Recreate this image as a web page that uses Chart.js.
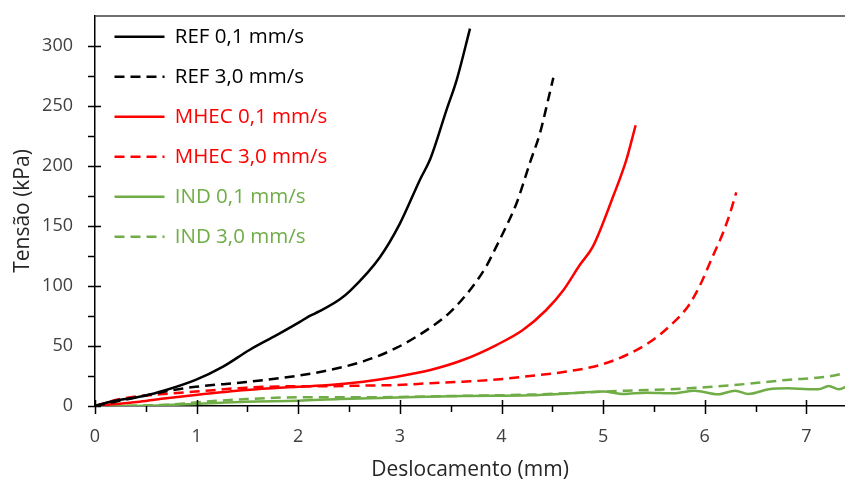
<!DOCTYPE html>
<html>
<head>
<meta charset="utf-8">
<script src="https://cdn.jsdelivr.net/npm/chart.js@4/dist/chart.umd.min.js"></script>
<style>
  body { margin: 0; background: #fff; }
  #wrap { width: 845px; height: 481px; }
</style>
</head>
<body>
<div id="wrap"><canvas id="chart" width="845" height="481"></canvas></div>
<script>
// values (displacement in mm, stress in kPa)
const refSlowX = [0, 0.15, 0.48, 0.70, 0.99, 1.26, 1.52, 1.79, 2.02, 2.10, 2.21, 2.41, 2.51, 2.80, 3.00, 3.20, 3.30, 3.46, 3.56, 3.69];
const refSlowY = [0, 3.6, 8.3, 13.3, 21.7, 32.8, 46.7, 59.2, 70.3, 74.5, 79, 89, 96, 123.6, 152, 189, 206, 247, 272, 314.5];

const refFastX = [0, 0.28, 0.77, 0.99, 1.49, 2.0, 2.31, 2.64, 2.97, 3.30, 3.49, 3.69, 3.85, 3.95, 4.02, 4.15, 4.28, 4.38, 4.46, 4.51];
const refFastY = [0, 5, 13.3, 16, 20, 25.3, 30, 37.2, 48.6, 65.3, 77.8, 96.7, 116.4, 133, 145, 169.4, 202.8, 227.8, 255.6, 273.6];

const mhecSlowX = [0, 0.44, 0.70, 0.99, 1.49, 2.0, 2.31, 2.64, 2.97, 3.30, 3.62, 3.95, 4.21, 4.44, 4.61, 4.77, 4.90, 5.10, 5.23, 5.32];
const mhecSlowY = [0, 3.6, 6.4, 9.2, 13.3, 16, 17.5, 20.3, 24.4, 30, 38.3, 50.8, 63.3, 80, 96.7, 117.5, 133, 175, 205.6, 234];

const mhecFastX = [0, 0.28, 0.77, 0.99, 1.49, 2.0, 2.31, 2.64, 2.97, 3.30, 3.62, 3.95, 4.28, 4.61, 4.97, 5.23, 5.46, 5.66, 5.84, 5.95, 6.08, 6.18, 6.25, 6.31];
const mhecFastY = [0, 6.4, 10.6, 12, 15.3, 16.5, 16.5, 17, 17.5, 19, 20.3, 22, 25, 28.3, 34.2, 42.5, 53.3, 67, 83.6, 100, 125, 144.4, 161, 178];

const indSlowX = [0, 0.5, 0.7, 0.99, 1.49, 2.0, 2.41, 2.97, 3.62, 4.28, 4.57, 4.77, 5.0, 5.2, 5.43, 5.69, 5.9, 6.13, 6.3, 6.43, 6.63, 6.82, 7.02, 7.12, 7.22, 7.32, 7.42];
const indSlowY = [0, 0.3, 0.8, 1.7, 3.6, 4.4, 5.8, 7, 8.3, 8.9, 10, 11.1, 12, 10, 11.1, 10.6, 12.8, 9.7, 12.8, 10, 13.9, 14.7, 13.9, 13.9, 16.7, 13.9, 17.5];

const indFastX = [0, 0.7, 0.99, 1.49, 2.0, 2.41, 2.97, 3.62, 4.28, 4.61, 5.23, 5.46, 5.84, 6.0, 6.4, 6.8, 7.2, 7.42];
const indFastY = [0, 1, 3, 5.8, 7.2, 7.2, 7.5, 8.5, 9.5, 10.5, 12.8, 13.3, 14.7, 15.6, 18.3, 21.7, 24.4, 28.2];

const seriesLabels = ['REF 0,1 mm/s', 'REF 3,0 mm/s', 'MHEC 0,1 mm/s', 'MHEC 3,0 mm/s', 'IND 0,1 mm/s', 'IND 3,0 mm/s'];

const xMajor = [0, 1, 2, 3, 4, 5, 6, 7];
const xMinor = [0.5, 1.5, 2.5, 3.5, 4.5, 5.5, 6.5];
const yMajor = [0, 50, 100, 150, 200, 250, 300];
const yMinor = [25, 75, 125, 175, 225, 275];

const BLACK = '#000000';
const RED = '#ff0000';
const GREEN = '#70ad47';
const FONT = 'Open Sans';

function points(xs, ys) {
    return xs.map((x, i) => ({ x: x, y: ys[i] }));
}

function line(label, xs, ys, color, dashed) {
    return {
        label: label,
        data: points(xs, ys),
        borderColor: color,
        backgroundColor: color,
        borderWidth: 2.5,
        borderDash: dashed ? [10, 6] : [],
        pointRadius: 0,
        cubicInterpolationMode: 'monotone',
        fill: false
    };
}

// tick marks crossing the axes + the thin frame line on top
const axisDecor = {
    id: 'axisDecor',
    afterLayout(chart) {
        // legend sits inside the plot, a bit higher than Chart.js puts it
        chart.legend.top = chart.chartArea.top - 9;
        chart.legend.left = chart.chartArea.left;
    },
    afterDraw(chart) {
        const ctx = chart.ctx;
        const area = chart.chartArea;
        const x = chart.scales.x;
        const y = chart.scales.y;
        ctx.save();
        ctx.strokeStyle = '#000';
        ctx.lineWidth = 1.5;
        ctx.beginPath();
        yMajor.forEach(v => {
            const p = Math.round(y.getPixelForValue(v)) + 0.5;
            ctx.moveTo(area.left - 7, p);
            ctx.lineTo(area.left + 6, p);
        });
        yMinor.forEach(v => {
            const p = Math.round(y.getPixelForValue(v)) + 0.5;
            ctx.moveTo(area.left - 7, p);
            ctx.lineTo(area.left, p);
        });
        xMajor.forEach(v => {
            const p = Math.round(x.getPixelForValue(v)) + 0.5;
            ctx.moveTo(p, area.bottom - 6);
            ctx.lineTo(p, area.bottom + 8);
        });
        xMinor.forEach(v => {
            const p = Math.round(x.getPixelForValue(v)) + 0.5;
            ctx.moveTo(p, area.bottom);
            ctx.lineTo(p, area.bottom + 6);
        });
        ctx.stroke();

        ctx.strokeStyle = '#404040';
        ctx.beginPath();
        ctx.moveTo(area.left, area.top);
        ctx.lineTo(area.right, area.top);
        ctx.stroke();
        ctx.restore();
    }
};

const ctx = document.getElementById('chart').getContext('2d');

new Chart(ctx, {
    type: 'line',
    data: {
        datasets: [
            line(seriesLabels[0], refSlowX, refSlowY, BLACK, false),
            line(seriesLabels[1], refFastX, refFastY, BLACK, true),
            line(seriesLabels[2], mhecSlowX, mhecSlowY, RED, false),
            line(seriesLabels[3], mhecFastX, mhecFastY, RED, true),
            line(seriesLabels[4], indSlowX, indSlowY, GREEN, false),
            line(seriesLabels[5], indFastX, indFastY, GREEN, true)
        ]
    },
    options: {
        responsive: false,
        animation: false,
        devicePixelRatio: 1,
        layout: { padding: { top: 16, right: 0, left: 0, bottom: 0 } },
        plugins: {
            tooltip: { enabled: false },
            legend: {
                position: 'chartArea',
                align: 'start',
                labels: {
                    usePointStyle: true,
                    pointStyle: 'line',
                    pointStyleWidth: 50,
                    padding: 19.5,
                    font: { family: FONT, size: 20.5 },
                    generateLabels(chart) {
                        const items = Chart.defaults.plugins.legend.labels.generateLabels(chart);
                        items.forEach(it => {
                            const ds = chart.data.datasets[it.datasetIndex];
                            it.fontColor = ds.borderColor;
                            it.strokeStyle = ds.borderColor;
                            it.lineDash = ds.borderDash;
                            it.lineWidth = ds.borderWidth;
                        });
                        return items;
                    }
                }
            }
        },
        scales: {
            x: {
                type: 'linear',
                min: 0,
                max: 7.38,
                afterFit(scale) { scale.height = 75; scale.paddingLeft = 0; scale.paddingRight = 0; },
                grid: { display: false, drawTicks: false },
                border: { display: true, color: '#000', width: 1.5 },
                ticks: {
                    stepSize: 1,
                    includeBounds: false,
                    padding: 20,
                    color: '#404040',
                    font: { family: FONT, size: 18 },
                    maxRotation: 0
                },
                title: {
                    display: true,
                    text: 'Deslocamento (mm)',
                    color: '#262626',
                    font: { family: FONT, size: 21 },
                    padding: { top: 0, bottom: -2 }
                }
            },
            y: {
                type: 'linear',
                min: 0,
                max: 325,
                afterFit(scale) { scale.width = 95; scale.paddingTop = 0; scale.paddingBottom = 0; },
                grid: { display: false, drawTicks: false },
                border: { display: true, color: '#000', width: 1.5 },
                ticks: {
                    stepSize: 50,
                    includeBounds: false,
                    padding: 22,
                    color: '#404040',
                    font: { family: FONT, size: 18 }
                },
                title: {
                    display: true,
                    text: 'Tensão (kPa)',
                    color: '#262626',
                    font: { family: FONT, size: 21 },
                    padding: { top: 10, bottom: 0 }
                }
            }
        }
    },
    plugins: [axisDecor]
});
</script>
</body>
</html>
